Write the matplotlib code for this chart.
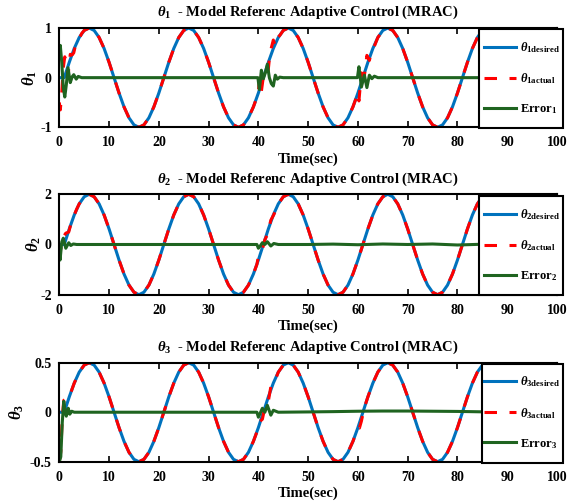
import matplotlib
matplotlib.use("Agg")
import matplotlib.pyplot as plt
from matplotlib.patches import Rectangle

plt.rcParams.update({
    "font.family": ["Liberation Serif", "DejaVu Serif"],
    "font.weight": "bold",
    "mathtext.fontset": "custom",
    "mathtext.rm": "Liberation Serif",
    "mathtext.it": "Liberation Serif:italic",
    "mathtext.bf": "Liberation Serif:bold",
    "lines.scale_dashes": False,
    "axes.unicode_minus": False,
})

# ---------------- data ----------------
time_grid = list(range(0, 101))

theta1_desired = [0,
    0, 0.309, 0.588, 0.809, 0.951, 1, 0.951, 0.809, 0.588, 0.309, 0, -0.309, -0.588, -0.809, -0.951, -1, -0.951, -0.809, -0.588, -0.309,
    0, 0.309, 0.588, 0.809, 0.951, 1, 0.951, 0.809, 0.588, 0.309, 0, -0.309, -0.588, -0.809, -0.951, -1, -0.951, -0.809, -0.588, -0.309,
    0, 0.309, 0.588, 0.809, 0.951, 1, 0.951, 0.809, 0.588, 0.309, 0, -0.309, -0.588, -0.809, -0.951, -1, -0.951, -0.809, -0.588, -0.309,
    0, 0.309, 0.588, 0.809, 0.951, 1, 0.951, 0.809, 0.588, 0.309, 0, -0.309, -0.588, -0.809, -0.951, -1, -0.951, -0.809, -0.588, -0.309,
    0, 0.309, 0.588, 0.809, 0.951, 1, 0.951, 0.809, 0.588, 0.309, 0, -0.309, -0.588, -0.809, -0.951, -1, -0.951, -0.809, -0.588, -0.309]

theta2_desired = [0,
    0, 0.618, 1.176, 1.618, 1.902, 2, 1.902, 1.618, 1.176, 0.618, 0, -0.618, -1.176, -1.618, -1.902, -2, -1.902, -1.618, -1.176, -0.618,
    0, 0.618, 1.176, 1.618, 1.902, 2, 1.902, 1.618, 1.176, 0.618, 0, -0.618, -1.176, -1.618, -1.902, -2, -1.902, -1.618, -1.176, -0.618,
    0, 0.618, 1.176, 1.618, 1.902, 2, 1.902, 1.618, 1.176, 0.618, 0, -0.618, -1.176, -1.618, -1.902, -2, -1.902, -1.618, -1.176, -0.618,
    0, 0.618, 1.176, 1.618, 1.902, 2, 1.902, 1.618, 1.176, 0.618, 0, -0.618, -1.176, -1.618, -1.902, -2, -1.902, -1.618, -1.176, -0.618,
    0, 0.618, 1.176, 1.618, 1.902, 2, 1.902, 1.618, 1.176, 0.618, 0, -0.618, -1.176, -1.618, -1.902, -2, -1.902, -1.618, -1.176, -0.618]

theta3_desired = [0,
    0, 0.155, 0.294, 0.405, 0.476, 0.5, 0.476, 0.405, 0.294, 0.155, 0, -0.155, -0.294, -0.405, -0.476, -0.5, -0.476, -0.405, -0.294, -0.155,
    0, 0.155, 0.294, 0.405, 0.476, 0.5, 0.476, 0.405, 0.294, 0.155, 0, -0.155, -0.294, -0.405, -0.476, -0.5, -0.476, -0.405, -0.294, -0.155,
    0, 0.155, 0.294, 0.405, 0.476, 0.5, 0.476, 0.405, 0.294, 0.155, 0, -0.155, -0.294, -0.405, -0.476, -0.5, -0.476, -0.405, -0.294, -0.155,
    0, 0.155, 0.294, 0.405, 0.476, 0.5, 0.476, 0.405, 0.294, 0.155, 0, -0.155, -0.294, -0.405, -0.476, -0.5, -0.476, -0.405, -0.294, -0.155,
    0, 0.155, 0.294, 0.405, 0.476, 0.5, 0.476, 0.405, 0.294, 0.155, 0, -0.155, -0.294, -0.405, -0.476, -0.5, -0.476, -0.405, -0.294, -0.155]

# actual (non-uniform time, denser near transients)
theta1_actual_t = ([0, 0.2, 0.5, 0.8, 1.1, 1.4, 1.75, 2.2, 2.6, 2.9, 3.4, 3.8, 4.5] + list(range(5, 40))
                   + [40, 40.2, 40.6, 41.0, 41.4, 41.8, 42.2, 42.6, 43.0, 43.4, 43.8, 44.3] + list(range(45, 60))
                   + [60, 60.2, 60.7, 61.3, 61.8, 62.3, 62.8, 63.3] + list(range(64, 101)))
theta1_actual = [-0.5, -0.65, -0.3, 0.2, 0.42, 0.275, 0.03, 0.47, 0.46, 0.50, 0.715, 0.746, 0.891,
    0.951, 1, 0.951, 0.809, 0.588, 0.309, 0, -0.309, -0.588, -0.809, -0.951, -1, -0.951, -0.809, -0.588, -0.309,
    0, 0.309, 0.588, 0.809, 0.951, 1, 0.951, 0.809, 0.588, 0.309, 0, -0.309, -0.588, -0.809, -0.951, -1, -0.951, -0.809, -0.588,
    -0.309, -0.009, -0.275, 0.02, 0.025, -0.021, 0.368, 0.602, 0.758, 0.635, 0.801, 0.851,
    0.951, 1, 0.951, 0.809, 0.588, 0.309, 0, -0.309, -0.588, -0.809, -0.951, -1, -0.951, -0.809, -0.588,
    -0.309, -0.469, 0.096, 0.044, 0.449, 0.347, 0.556, 0.633,
    0.809, 0.951, 1, 0.951, 0.809, 0.588, 0.309, 0, -0.309, -0.588, -0.809, -0.951, -1, -0.951, -0.809, -0.588, -0.309,
    0, 0.309, 0.588, 0.809, 0.951, 1, 0.951, 0.809, 0.588, 0.309, 0, -0.309, -0.588, -0.809, -0.951, -1, -0.951, -0.809, -0.588, -0.309]

theta2_actual_t = ([0, 0.15, 0.5, 0.8, 1.3, 1.9, 2.3, 2.8, 3.5] + list(range(4, 40))
                   + [39.7, 40, 40.4, 40.8, 41.3, 41.8, 42.5, 43.1] + list(range(44, 101)))
theta2_actual = [0, -0.3, 0.0, 0.3, 0.45, 0.5, 0.794, 1.071, 1.414,
    1.618, 1.902, 2, 1.902, 1.618, 1.176, 0.618, 0, -0.618, -1.176, -1.618, -1.902, -2, -1.902, -1.618, -1.176, -0.618,
    0, 0.618, 1.176, 1.618, 1.902, 2, 1.902, 1.618, 1.176, 0.618, 0, -0.618, -1.176, -1.618, -1.902, -2, -1.902, -1.618, -1.176,
    -0.794, -0.468, -0.325, -0.196, 0.188, 0.387, 0.968, 1.189,
    1.618, 1.902, 2, 1.902, 1.618, 1.176, 0.618, 0, -0.618, -1.176, -1.618, -1.902, -2, -1.902, -1.618, -1.176, -0.618,
    0, 0.618, 1.176, 1.618, 1.902, 2, 1.902, 1.618, 1.176, 0.618, 0, -0.618, -1.176, -1.618, -1.902, -2, -1.902, -1.618, -1.176, -0.618,
    0, 0.618, 1.176, 1.618, 1.902, 2, 1.902, 1.618, 1.176, 0.618, 0, -0.618, -1.176, -1.618, -1.902, -2, -1.902, -1.618, -1.176, -0.618]

theta3_actual_t = ([0, 0.3, 0.6, 0.9, 1.2, 1.5] + list(range(2, 40))
                   + [39.7, 40, 40.8, 41.3, 41.8, 42.5, 43] + list(range(44, 60))
                   + [60, 60.3, 60.7, 61.2] + list(range(62, 101)))
theta3_actual = [-0.5, -0.4, -0.05, 0.12, 0.13, 0.12,
    0.155, 0.294, 0.405, 0.476, 0.5, 0.476, 0.405, 0.294, 0.155, 0, -0.155, -0.294, -0.405, -0.476, -0.5, -0.476, -0.405, -0.294, -0.155,
    0, 0.155, 0.294, 0.405, 0.476, 0.5, 0.476, 0.405, 0.294, 0.155, 0, -0.155, -0.294, -0.405, -0.476, -0.5, -0.476, -0.405, -0.294,
    -0.199, -0.105, -0.071, 0.047, 0.054, 0.257, 0.274,
    0.405, 0.476, 0.5, 0.476, 0.405, 0.294, 0.155, 0, -0.155, -0.294, -0.405, -0.476, -0.5, -0.476, -0.405, -0.294,
    -0.155, -0.16, -0.09, 0.031,
    0.155, 0.294, 0.405, 0.476, 0.5, 0.476, 0.405, 0.294, 0.155, 0, -0.155, -0.294, -0.405, -0.476, -0.5, -0.476, -0.405, -0.294, -0.155,
    0, 0.155, 0.294, 0.405, 0.476, 0.5, 0.476, 0.405, 0.294, 0.155, 0, -0.155, -0.294, -0.405, -0.476, -0.5, -0.476, -0.405, -0.294, -0.155]

# tracking error
theta1_error_t = [0, 0.2, 0.5, 0.8, 1.1, 1.4, 1.75, 2.2, 2.6, 2.9, 3.4, 3.8, 4.5, 10, 20, 30,
                  39.9, 40.2, 40.6, 41.0, 41.4, 41.8, 42.2, 42.6, 43.0, 43.4, 43.8, 44.3, 45, 50,
                  59.9, 60.2, 60.7, 61.3, 61.8, 62.3, 62.8, 63.3, 64, 70, 80, 90, 100]
theta1_error = [0.5, 0.65, 0.3, -0.2, -0.39, -0.15, 0.2, -0.1, 0.02, 0.06, -0.03, 0.025, 0, 0, 0, 0,
                0, -0.24, 0.15, -0.02, 0.1, 0.27, 0.0, -0.12, -0.17, 0.05, -0.03, 0.01, 0, 0,
                0, 0.22, -0.19, 0.05, -0.2, 0.05, -0.02, 0.03, 0, 0, 0, 0, 0]

theta2_error_t = [0, 0.15, 0.5, 0.8, 1.3, 1.9, 2.3, 2.8, 3.5, 10, 20, 30,
                  39.7, 40, 40.4, 40.8, 41.3, 41.8, 42.5, 43.1,
                  44, 50, 55, 60, 65, 70, 75, 80, 85, 90, 100]
theta2_error = [-0.3, -0.62, 0.1, 0.25, -0.15, 0.07, -0.04, 0.02, 0, 0, 0, 0,
                0, -0.15, -0.05, 0.07, 0.0, 0.11, -0.06, 0.04,
                0, 0, 0.015, -0.01, 0.02, 0, 0.02, -0.02, 0.01, 0, 0]

theta3_error_t = [0, 0.3, 0.6, 0.9, 1.2, 1.4, 1.8, 2.1, 2.5, 3, 10, 20, 30,
                  39.7, 40, 40.8, 41.3, 41.8, 42.5, 43,
                  44, 50, 55, 60, 65, 70, 75, 80, 85, 90, 100]
theta3_error = [-0.5, -0.45, -0.1, 0.11, 0.0, -0.04, 0.04, -0.02, 0.01, 0, 0, 0, 0,
                0, -0.05, 0.04, 0.0, 0.07, -0.03, 0.02,
                0, 0.003, 0.006, 0.01, 0.012, 0.012, 0.01, 0.008, 0.004, 0, 0]

x_ticks = [0, 10, 20, 30, 40, 50, 60, 70, 80, 90, 100]
y_ticks = [[-1, 0, 1], [-2, 0, 2], [-0.5, 0, 0.5]]
y_ticklabels = [["-1", "0", "1"], ["-2", "0", "2"], ["-0.5", "0", "0.5"]]
titles = [r"$\theta_1$  - Model Referenc Adaptive Control (MRAC)",
          r"$\theta_2$  - Model Referenc Adaptive Control (MRAC)",
          r"$\theta_3$  - Model Referenc Adaptive Control (MRAC)"]
ylabels = [r"$\theta_1$", r"$\theta_2$", r"$\theta_3$"]
legend_labels = [
    [r"$\theta_{\mathbf{1desired}}$", r"$\theta_{\mathbf{1actual}}$", r"Error$_{\mathbf{1}}$"],
    [r"$\theta_{\mathbf{2desired}}$", r"$\theta_{\mathbf{2actual}}$", r"Error$_{\mathbf{2}}$"],
    [r"$\theta_{\mathbf{3desired}}$", r"$\theta_{\mathbf{3actual}}$", r"Error$_{\mathbf{3}}$"],
]
desired_all = [theta1_desired, theta2_desired, theta3_desired]
actual_t_all = [theta1_actual_t, theta2_actual_t, theta3_actual_t]
actual_all = [theta1_actual, theta2_actual, theta3_actual]
error_t_all = [theta1_error_t, theta2_error_t, theta3_error_t]
error_all = [theta1_error, theta2_error, theta3_error]

# ---------------- layout / style ----------------
BLUE = "#0072BD"
RED = "#FF0000"
GREEN = "#1F6420"
axes_pos = [[0.1035, 0.7459, 0.8686, 0.1982],
            [0.1035, 0.4118, 0.8686, 0.2004],
            [0.1035, 0.0784, 0.8686, 0.1976]]
ylabel_x = [-0.041, -0.032, -0.067]
box_left = [0.8433, 0.8433, 0.8487]

fig = plt.figure(figsize=(5.73, 5.01), dpi=100)
for i in range(3):
    ax = fig.add_axes(axes_pos[i])
    l1, = ax.plot(time_grid, desired_all[i], color=BLUE, lw=2.2, zorder=2)
    l2, = ax.plot(actual_t_all[i], actual_all[i], color=RED, lw=2.2, dashes=(9, 9), zorder=2.1)
    l3, = ax.plot(error_t_all[i], error_all[i], color=GREEN, lw=2.2, zorder=2.2)
    lim = y_ticks[i][-1]
    ax.set_xlim(0, 100)
    ax.set_ylim(-lim, lim)
    ax.set_xticks(x_ticks)
    ax.set_xticklabels([str(v) for v in x_ticks])
    ax.set_yticks(y_ticks[i])
    ax.set_yticklabels(y_ticklabels[i])
    ax.tick_params(direction="in", top=True, right=True, length=4, width=1.2,
                   labelsize=10)
    ax.tick_params(axis="x", pad=6.5)
    ax.tick_params(axis="y", pad=5.5)
    for sp in ax.spines.values():
        sp.set_linewidth(1.5)
    ax.set_title(titles[i], fontsize=10.5, fontweight="bold", pad=8.5)
    ax.set_xlabel("Time(sec)", fontsize=10.5, fontweight="bold", labelpad=2)
    ax.set_ylabel(ylabels[i], fontsize=12)
    ax.yaxis.set_label_coords(ylabel_x[i], 0.5)
    rect = Rectangle((box_left[i], -0.008), 1.0121 - box_left[i], 0.995,
                     transform=ax.transAxes, facecolor="white", edgecolor="black",
                     lw=1.5, clip_on=False, zorder=4)
    ax.add_patch(rect)
    leg = ax.legend([l1, l2, l3], legend_labels[i], loc="center left",
                    bbox_to_anchor=(0.8533, 0.496), frameon=False, fontsize=9,
                    handlelength=2.56, handletextpad=0.32, labelspacing=1.3,
                    borderpad=0, borderaxespad=0)
    leg.set_zorder(5)

fig.savefig("out.png", dpi=100)
